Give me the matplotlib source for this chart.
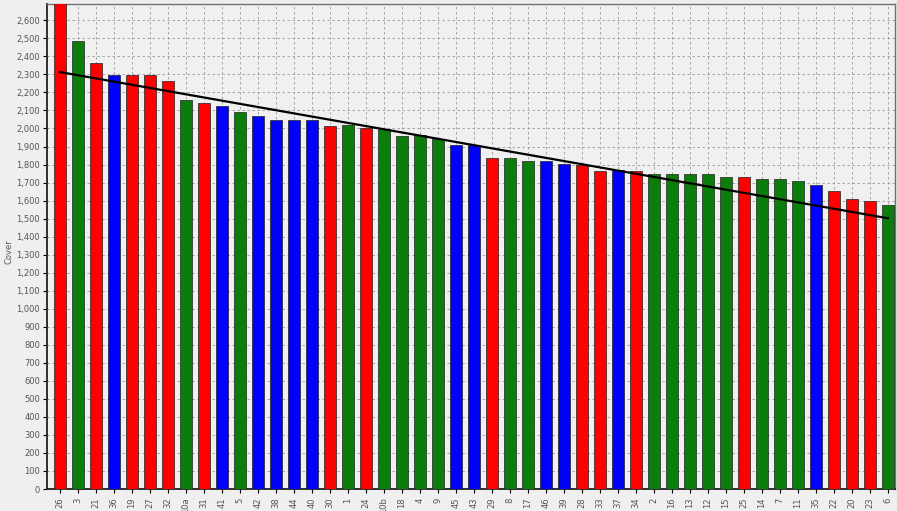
import matplotlib
matplotlib.use("Agg")
import matplotlib.pyplot as plt
import numpy as np
from matplotlib.ticker import FuncFormatter, MultipleLocator

labels = ["26", "3", "21", "36", "19", "27", "32", "10a", "31", "41", "5", "42", "38", "44",
          "40", "30", "1", "24", "10b", "18", "4", "9", "45", "43", "29", "8", "17", "46",
          "39", "28", "33", "37", "34", "2", "16", "13", "12", "15", "25", "14", "7", "11",
          "35", "22", "20", "23", "6"]
values = [2720, 2485, 2365, 2295, 2295, 2295, 2265, 2156, 2140, 2123, 2090, 2068, 2045, 2045,
          2045, 2015, 2018, 2001, 1995, 1957, 1962, 1940, 1907, 1911, 1837, 1837, 1820, 1820,
          1801, 1800, 1765, 1768, 1763, 1750, 1750, 1750, 1750, 1731, 1731, 1718, 1718, 1707,
          1689, 1652, 1607, 1596, 1578]
groups = ["R", "G", "R", "B", "R", "R", "R", "G", "R", "B", "G", "B", "B", "B",
          "B", "R", "G", "R", "G", "G", "G", "G", "B", "B", "R", "G", "G", "B",
          "B", "R", "R", "B", "R", "G", "G", "G", "G", "G", "R", "G", "G", "G",
          "B", "R", "R", "R", "G"]
# trend line values at first and last bar
trend_values = [2313, 1502]
palette = {"R": "#ff0000", "G": "#0a7d0a", "B": "#0000ff"}

fig = plt.figure(figsize=(8.97, 5.11), dpi=100, facecolor="#efefef")
ax = fig.add_axes([0.0524, 0.043, 0.9454, 0.949])
ax.set_facecolor("#f0f0f0")

x = np.arange(len(values))
ax.bar(x, values, width=0.66, color=[palette[g] for g in groups],
       edgecolor="#202020", linewidth=0.5, zorder=3)

ax.plot([x[0], x[-1]], trend_values, color="black", linewidth=1.6, zorder=4)

ax.set_xlim(-0.72, len(values) - 0.6)
ax.set_ylim(0, 2690)
ax.yaxis.set_major_locator(MultipleLocator(100))
ax.yaxis.set_major_formatter(FuncFormatter(lambda v, p: f"{int(v):,}"))
ax.set_xticks(x)
ax.set_xticklabels(labels, rotation=90, fontsize=6, color="#555555")
ax.tick_params(axis="y", labelsize=6, labelcolor="#555555", length=3, width=0.8, pad=2)
ax.tick_params(axis="x", length=3, width=0.8, pad=3)
ax.grid(True, color="#9a9a9a", linestyle=(0, (3, 3)), linewidth=0.6, zorder=0)
for side in ["left", "bottom"]:
    ax.spines[side].set_color("#202020")
    ax.spines[side].set_linewidth(1.3)
for side in ["top", "right"]:
    ax.spines[side].set_color("#707070")
    ax.spines[side].set_linewidth(1.0)
ax.set_ylabel("Cover", fontsize=6, color="#555555")
ax.yaxis.set_label_coords(-0.04, 0.49)

fig.savefig("out.png", dpi=100, facecolor=fig.get_facecolor())
